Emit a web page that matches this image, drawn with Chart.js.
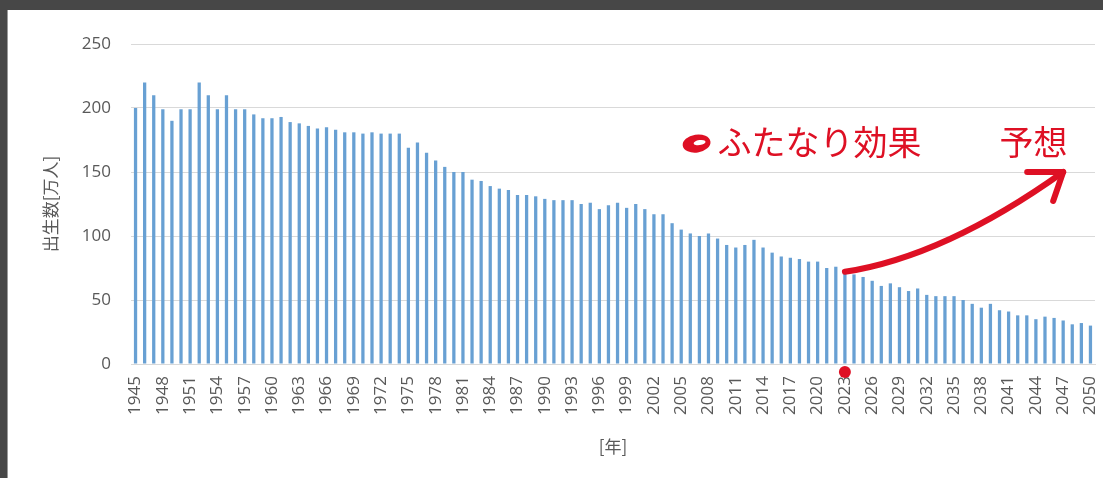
<!DOCTYPE html>
<html>
<head>
<meta charset="utf-8">
<script src="https://cdn.jsdelivr.net/npm/chart.js@4/dist/chart.umd.min.js"></script>
<style>
  body { margin: 0; background: #474747; width: 1103px; height: 478px; overflow: hidden; }
  #frame { position: absolute; left: 7px; top: 10px; width: 1096px; height: 468px; background: #fff; border-left: 1px solid #9a9a9a; box-sizing: border-box; }
  #birthChart { position: absolute; left: 0; top: 0; }
</style>
</head>
<body>
<div id="frame"><canvas id="birthChart" width="1095" height="468"></canvas></div>
<script>
// ==========================================
// BIRTHS PER YEAR (万人), 1945 - 2050
// ==========================================

const years = [];
for (let y = 1945; y <= 2050; y++) years.push(String(y));

// values, one per year
const births = [
  200, 220, 210, 199, 190, 199, 199, 220, 210, 199, // 1945-1954
  210, 199, 199, 195, 192, 192, 193, 189, 188, 186, // 1955-1964
  184, 185, 183, 181, 181, 180, 181, 180, 180, 180, // 1965-1974
  169, 173, 165, 159, 154, 150, 150, 144, 143, 139, // 1975-1984
  137, 136, 132, 132, 131, 129, 128, 128, 128, 125, // 1985-1994
  126, 121, 124, 126, 122, 125, 121, 117, 117, 110, // 1995-2004
  105, 102, 100, 102, 98, 93, 91, 93, 97, 91,       // 2005-2014
  87, 84, 83, 82, 80, 80, 75, 76, 71, 70,           // 2015-2024
  68, 65, 61, 63, 60, 57, 59, 54, 53, 53,           // 2025-2034
  53, 50, 47, 44, 47, 42, 41, 38, 38, 35,           // 2035-2044
  37, 36, 34, 31, 32, 30,                           // 2045-2050
];

const yTicks = [0, 50, 100, 150, 200, 250];

// annotation anchors (year, value)
const markYear = '2023';
const arrowFrom = { year: '2023', value: 72 };
const arrowVia = { year: '2034', value: 84 };
const arrowTo = { year: '2047', value: 150 };
const noteText = 'ふたなり効果';
const noteText2 = '予想';
const noteYear = '2009';
const note2Year = '2040';
const noteValue = 173;

const RED = 'rgb(222, 16, 36)';
const TEXT = '#595959';

// hand drawn red notes on top of the chart
const notesPlugin = {
  id: 'notes',
  afterDraw(chart) {
    const ctx = chart.ctx;
    const xs = chart.scales.x;
    const ys = chart.scales.y;
    const px = (yr) => xs.getPixelForValue(years.indexOf(yr));

    ctx.save();
    // red dot on the axis
    ctx.fillStyle = RED;
    ctx.beginPath();
    ctx.arc(px(markYear), ys.bottom + 8, 6, 0, Math.PI * 2);
    ctx.fill();

    // curved arrow
    const x0 = px(arrowFrom.year), y0 = ys.getPixelForValue(arrowFrom.value);
    const cx = px(arrowVia.year), cy = ys.getPixelForValue(arrowVia.value);
    const x1 = px(arrowTo.year), y1 = ys.getPixelForValue(arrowTo.value);
    ctx.strokeStyle = RED;
    ctx.lineWidth = 6;
    ctx.lineCap = 'round';
    ctx.lineJoin = 'round';
    ctx.beginPath();
    ctx.moveTo(x0, y0);
    ctx.quadraticCurveTo(cx, cy, x1, y1);
    ctx.stroke();
    ctx.beginPath();
    ctx.moveTo(x1 - 36, y1);
    ctx.lineTo(x1, y1);
    ctx.lineTo(x1 - 10, y1 + 29);
    ctx.stroke();

    // text
    const ty = ys.getPixelForValue(noteValue);
    const tx = px(noteYear);
    ctx.font = '34px "Noto Sans CJK JP"';
    ctx.textBaseline = 'middle';
    ctx.textAlign = 'left';
    ctx.fillText(noteText, tx, ty);
    ctx.fillText(noteText2, px(note2Year), ty);

    // little red blob before the text
    ctx.beginPath();
    ctx.ellipse(tx - 21, ty + 1, 14, 9, -0.15, 0, Math.PI * 2);
    ctx.fill();
    ctx.fillStyle = '#fff';
    ctx.beginPath();
    ctx.ellipse(tx - 18, ty, 6, 2.5, -0.15, 0, Math.PI * 2);
    ctx.fill();
    ctx.restore();
  },
};

const birthConfig = {
  type: 'bar',
  data: {
    labels: years,
    datasets: [
      {
        label: '出生数',
        data: births,
        backgroundColor: 'rgb(104, 160, 211)',
        barPercentage: 0.36,
        categoryPercentage: 1,
      },
    ],
  },
  options: {
    responsive: false,
    animation: false,
    layout: { padding: { left: 0, top: 34, right: 8, bottom: 0 } },
    plugins: {
      legend: { display: false },
      tooltip: { enabled: false },
    },
    scales: {
      x: {
        afterFit: (scale) => {
          scale.height = 114;
          scale.paddingLeft = 0;
          scale.paddingRight = 0;
        },
        grid: { display: false, drawTicks: false },
        border: { display: true, color: '#d9d9d9' },
        ticks: {
          autoSkip: false,
          minRotation: 90,
          maxRotation: 90,
          padding: 12,
          color: TEXT,
          font: { family: 'Open Sans', size: 17 },
          callback: function (value) {
            const yr = Number(years[value]);
            return (yr - 1945) % 3 === 0 ? String(yr) : '';
          },
        },
        title: {
          display: true,
          text: '[年]',
          color: TEXT,
          font: { family: '"Noto Sans CJK JP"', size: 17 },
          padding: { top: 0, bottom: 21 },
        },
      },
      y: {
        min: 0,
        max: 250,
        afterFit: (scale) => { scale.width = 123; },
        afterBuildTicks: (scale) => { scale.ticks = yTicks.map((v) => ({ value: v })); },
        grid: { color: '#d9d9d9', drawTicks: false },
        border: { display: false },
        ticks: {
          padding: 20,
          color: TEXT,
          font: { family: 'Open Sans', size: 17 },
        },
        title: {
          display: true,
          text: '出生数[万人]',
          color: TEXT,
          font: { family: '"Noto Sans CJK JP"', size: 17 },
          padding: { top: 32, bottom: 0 },
        },
      },
    },
  },
  plugins: [notesPlugin],
};

const birthChart = new Chart(document.getElementById('birthChart'), birthConfig);
</script>
</body>
</html>
